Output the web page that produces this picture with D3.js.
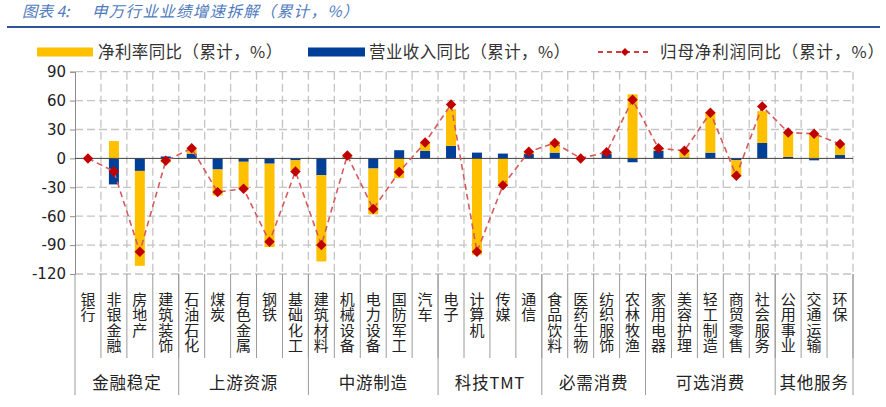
<!DOCTYPE html>
<html><head><meta charset="utf-8">
<script src="https://cdn.jsdelivr.net/npm/d3@7"></script>
<style>
html,body{margin:0;padding:0;background:#fff;}
svg{display:block;}
</style></head>
<body>
<svg id="chart" width="886" height="407"></svg>
<script>
const categories = ["银行","非银金融","房地产","建筑装饰","石油石化","煤炭","有色金属","钢铁","基础化工","建筑材料","机械设备","电力设备","国防军工","汽车","电子","计算机","传媒","通信","食品饮料","医药生物","纺织服饰","农林牧渔","家用电器","美容护理","轻工制造","商贸零售","社会服务","公用事业","交通运输","环保"];
const groupNames = ["金融稳定","上游资源","中游制造","科技TMT","必需消费","可选消费","其他服务"];
const groupSizes = [4,5,5,4,4,5,3];
// 营业收入同比（累计，%）
const revenue = [0.5,-27,-13,2,5,-11.5,-3.5,-5.5,-2,-17.5,1,-10.5,8.5,8,13,6,5,4.5,6,0.5,5,-4,8,1,6,-2,16,1.5,-2,3.5];
// 净利率同比（累计，%）
const margin = [-0.5,18,-98.5,-4,4.5,-27,-27.5,-86.5,-10,-89.5,2,-47.5,-20.5,9,38,-100,-27.5,2.5,11.5,-0.5,1.5,66.5,3,7,42,-17,33,24.5,25,10.5];
// 归母净利润同比（累计，%）
const profit = [0,-13.5,-97,-2.5,10.5,-35,-31.5,-86.5,-13.5,-90,3,-52.5,-14,16.5,56,-97,-28,7,16,0,6.5,61,10.5,8,47.5,-18,54,27,25.5,15];
const yTicks = [90,60,30,0,-30,-60,-90,-120];
const legendLabels = ["净利率同比（累计，%）","营业收入同比（累计，%）","归母净利润同比（累计，%）"];
const titlePrefix = "图表 4:";
const titleMain = "申万行业业绩增速拆解（累计，%）";

const svg = d3.select("#chart");
const X0 = 75, X1 = 853, YT = 71.7, YB = 274;
const x = d3.scaleBand().domain(categories).range([X0, X1]).padding(0);
const y = d3.scaleLinear().domain([-120, 90]).range([YB, YT]);
const cw = x.bandwidth();
const barW = 10;
const YELLOW = "#FFC000", BLUE = "#003F98", RED = "#C00000";
const cjk = "'Noto Sans CJK SC','Noto Sans',sans-serif";

// Title
const tg = svg.append("g").attr("fill", "#4F7BBE").attr("font-family", cjk)
  .attr("font-style", "italic").attr("font-size", 15.5);
tg.append("text").attr("x", 22).attr("y", 17).text(titlePrefix);
tg.append("text").attr("x", 92).attr("y", 17).attr("letter-spacing", 1.3).text(titleMain);
svg.append("line").attr("x1", 7).attr("x2", 880).attr("y1", 27).attr("y2", 27)
  .attr("stroke", "#2F5597").attr("stroke-width", 2);

// Legend
const lg = svg.append("g").attr("font-family", cjk).attr("font-size", 16.5).attr("fill", "#333");
lg.append("rect").attr("x", 37).attr("y", 47.5).attr("width", 56).attr("height", 9).attr("fill", YELLOW);
lg.append("text").attr("x", 98).attr("y", 58).attr("letter-spacing", 0.4).text(legendLabels[0]);
lg.append("rect").attr("x", 308).attr("y", 47.5).attr("width", 57).attr("height", 9).attr("fill", BLUE);
lg.append("text").attr("x", 369).attr("y", 58).attr("letter-spacing", 0.4).text(legendLabels[1]);
lg.append("line").attr("x1", 598).attr("x2", 651).attr("y1", 52).attr("y2", 52)
  .attr("stroke", RED).attr("stroke-width", 1.5).attr("stroke-dasharray", "5,4");
lg.append("path").attr("d", d3.symbol(d3.symbolDiamond2 || d3.symbolDiamond, 40)()).attr("transform", "translate(625,52)").attr("fill", RED);
lg.append("text").attr("x", 660).attr("y", 58).attr("letter-spacing", 0.9).text(legendLabels[2]);

// Grid
const grid = svg.append("g").attr("stroke", "#C4C4C4").attr("stroke-width", 1.3).attr("stroke-dasharray", "8,4");
yTicks.forEach(t => {
  if (t === 0) return;
  grid.append("line").attr("x1", X0).attr("x2", X1).attr("y1", y(t)).attr("y2", y(t));
});
categories.forEach((c, i) => {
  const gx = x(c) + cw;
  grid.append("line").attr("x1", gx).attr("x2", gx).attr("y1", YT).attr("y2", YB);
});

// Y axis
const yAxis = d3.axisLeft(y).tickValues(yTicks).tickSize(5).tickPadding(4)
  .tickFormat(d => String(d));
const ya = svg.append("g").attr("transform", `translate(${X0},0)`).call(yAxis);
ya.select(".domain").attr("stroke", "#8c8c8c");
ya.selectAll(".tick line").attr("stroke", "#8c8c8c");
ya.selectAll("text").attr("font-family", "'DejaVu Sans',sans-serif").attr("font-size", 15).attr("fill", "#222");

// Bars stacked (diverging)
const rows = categories.map((c, i) => ({cat: c, rev: revenue[i], mar: margin[i]}));
const stack = d3.stack().keys(["rev", "mar"]).offset(d3.stackOffsetDiverging)(rows);
const colors = {rev: BLUE, mar: YELLOW};
stack.forEach(layer => {
  svg.append("g").attr("fill", colors[layer.key]).selectAll("rect").data(layer).join("rect")
    .attr("x", d => x(d.data.cat) + cw / 2 - barW / 2)
    .attr("width", barW)
    .attr("y", d => y(Math.max(d[0], d[1])))
    .attr("height", d => Math.abs(y(d[0]) - y(d[1])));
});

// Zero line
svg.append("line").attr("x1", X0).attr("x2", X1).attr("y1", y(0)).attr("y2", y(0))
  .attr("stroke", "#404040").attr("stroke-width", 1);

// Profit line
const line = d3.line().x((d, i) => x(categories[i]) + cw / 2).y(d => y(d));
svg.append("path").datum(profit).attr("d", line).attr("fill", "none")
  .attr("stroke", "#D65A5A").attr("stroke-width", 1.6).attr("stroke-dasharray", "6,4");
svg.append("g").selectAll("path").data(profit).join("path")
  .attr("d", d3.symbol(d3.symbolDiamond2 || d3.symbolDiamond, 70)())
  .attr("transform", (d, i) => `translate(${x(categories[i]) + cw / 2},${y(d)})`)
  .attr("fill", RED);

// Category labels (vertical, one character per row)
const catG = svg.append("g").attr("font-family", cjk).attr("font-size", 15).attr("fill", "#222")
  .attr("text-anchor", "middle");
categories.forEach((c, i) => {
  const cx = x(c) + cw / 2;
  Array.from(c).forEach((ch, k) => {
    catG.append("text").attr("x", cx).attr("y", 304.5 + k * 15.5).text(ch);
  });
});
// Separators
const sep = svg.append("g").attr("stroke", "#9a9a9a").attr("stroke-width", 1);
categories.forEach((c, i) => {
  sep.append("line").attr("x1", x(c) + cw).attr("x2", x(c) + cw).attr("y1", YB).attr("y2", 358);
});
sep.append("line").attr("x1", X0).attr("x2", X0).attr("y1", YB).attr("y2", 395);
let acc = 0;
const gG = svg.append("g").attr("font-family", cjk).attr("font-size", 16.5).attr("fill", "#222").attr("text-anchor", "middle");
groupNames.forEach((g, gi) => {
  const start = acc; acc += groupSizes[gi];
  const xs = x(categories[start]);
  const xe = x(categories[acc - 1]) + cw;
  sep.append("line").attr("x1", xe).attr("x2", xe).attr("y1", YB).attr("y2", 395);
  gG.append("text").attr("x", (xs + xe) / 2).attr("y", 389).attr("letter-spacing", 0.8).text(g);
});
</script>
</body></html>
